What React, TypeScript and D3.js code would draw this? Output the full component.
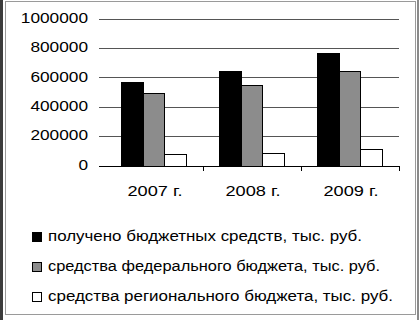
import React from "react";
import { scaleBand, scaleLinear } from "d3";

const years = ["2007 г.", "2008 г.", "2009 г."];
const received = [565000, 640000, 762000];
const federal = [490000, 551000, 646000];
const regional = [75000, 88000, 112000];
const yTicks = [0, 200000, 400000, 600000, 800000, 1000000];

const seriesNames = [
  "получено бюджетных средств, тыс. руб.",
  "средства федерального бюджета, тыс. руб.",
  "средства регионального бюджета, тыс. руб.",
];
const seriesFills = ["#000000", "#8c8c8c", "#ffffff"];
const legendWidths = [314, 332, 345];

export default function App() {
  const width = 419;
  const height = 320;
  const series = [received, federal, regional];

  // category axis
  const xScale = scaleBand<string>()
    .domain(years)
    .range([105, 399]);
  const inner = scaleBand<number>()
    .domain([0, 1, 2])
    .range([0, xScale.bandwidth()])
    .paddingOuter(0.76)
    .paddingInner(0);

  // value axis
  const yScale = scaleLinear().domain([0, 1000000]).range([166, 19]);

  const font = "'Liberation Sans', Arial, sans-serif";

  return (
    <svg
      width={width}
      height={height}
      style={{ position: "absolute", left: 0, top: 0, background: "#fff" }}
    >
      {/* frame */}
      <rect x={0} y={0} width={width} height={height} fill="#fff" />
      <rect x={5.5} y={1.5} width={410} height={313} fill="none" stroke="#9a9a9a" />
      <rect x={0} y={0} width={3} height={height} fill="#3c3c3c" />
      <rect x={417} y={0} width={2} height={height} fill="#8a8a8a" />

      {/* gridlines + y labels */}
      {yTicks.map((t) => (
        <g key={t}>
          <line
            x1={99}
            x2={399}
            y1={yScale(t)}
            y2={yScale(t)}
            stroke={t === 0 ? "#000" : "#555"}
            strokeWidth={1}
            shapeRendering="crispEdges"
          />
          <text
            x={88}
            y={yScale(t)}
            textAnchor="end"
            dominantBaseline="middle"
            fontFamily={font}
            fontSize={14}
            fill="#000"
            textLength={String(t).length * 9.6}
            lengthAdjust="spacingAndGlyphs"
          >
            {t}
          </text>
        </g>
      ))}

      {/* category ticks */}
      {years.map((y) => (
        <line
          key={y}
          x1={(xScale(y) ?? 0) + xScale.bandwidth()}
          x2={(xScale(y) ?? 0) + xScale.bandwidth()}
          y1={166}
          y2={171}
          stroke="#000"
          shapeRendering="crispEdges"
        />
      ))}

      {/* bars */}
      {years.map((y, i) => (
        <g key={y} transform={`translate(${xScale(y)},0)`}>
          {series.map((s, k) => (
            <rect
              key={k}
              x={inner(k)}
              y={yScale(s[i])}
              width={inner.bandwidth()}
              height={yScale(0) - yScale(s[i])}
              fill={seriesFills[k]}
              stroke="#000"
              strokeWidth={1}
              shapeRendering="crispEdges"
            />
          ))}
          <text
            x={xScale.bandwidth() / 2 + 1}
            y={192.5}
            textAnchor="middle"
            dominantBaseline="middle"
            fontFamily={font}
            fontSize={14}
            fill="#000"
            textLength={55}
            lengthAdjust="spacingAndGlyphs"
          >
            {y}
          </text>
        </g>
      ))}

      {/* legend */}
      {seriesNames.map((name, k) => {
        const cy = 237.5 + k * 30;
        return (
          <g key={name}>
            <rect
              x={32.5}
              y={cy - 5}
              width={9}
              height={9}
              fill={seriesFills[k]}
              stroke="#000"
              strokeWidth={1}
              shapeRendering="crispEdges"
            />
            <text
              x={48}
              y={cy}
              dominantBaseline="middle"
              fontFamily={font}
              fontSize={14}
              fill="#000"
              textLength={legendWidths[k]}
              lengthAdjust="spacingAndGlyphs"
            >
              {name}
            </text>
          </g>
        );
      })}
    </svg>
  );
}
